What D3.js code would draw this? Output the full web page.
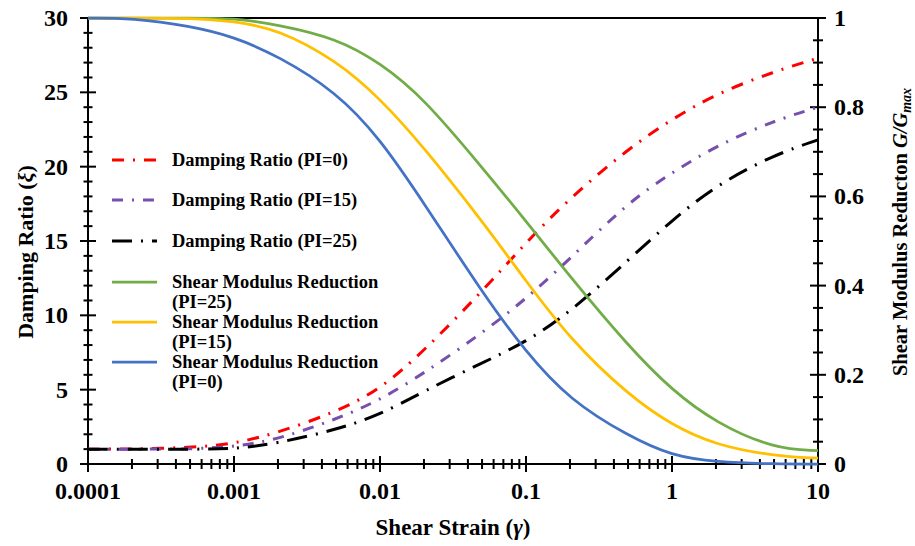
<!DOCTYPE html>
<html><head><meta charset="utf-8">
<script src="https://cdn.jsdelivr.net/npm/d3@7/dist/d3.min.js"></script>
<style>
html,body{margin:0;padding:0;background:#fff;}
svg text{font-family:"Liberation Serif","Times New Roman",serif;font-weight:bold;fill:#000;}
</style></head>
<body>
<svg id="chart" width="915" height="546"></svg>
<script>
// ---- data ----
const strain = [0.0001,0.0002,0.0005,0.001,0.002,0.005,0.01,0.02,0.05,0.1,0.2,0.5,1,2,5,10];
const dampPI0  = [1,1,1.1,1.35,2.1,3.5,5.0,7.6,11.6,14.9,17.9,21.2,23.2,24.9,26.4,27.3];
const dampPI15 = [1,1,1,1.15,1.65,3.0,4.3,6.1,8.8,11.1,13.8,17.6,19.6,21.4,23.1,24.0];
const dampPI25 = [1,1,1,1,1.4,2.3,3.3,4.9,6.8,8.2,10.2,13.7,16.4,18.75,20.8,21.8];
const gPI25 = [1,1,1,1,0.985,0.955,0.9,0.82,0.665,0.545,0.42,0.265,0.165,0.092,0.034,0.03];
const gPI15 = [1,1,1,0.993,0.975,0.905,0.82,0.71,0.545,0.41,0.28,0.155,0.087,0.042,0.018,0.013];
const gPI0  = [1,1,0.982,0.958,0.915,0.835,0.73,0.585,0.385,0.25,0.143,0.063,0.018,0.004,0,0];
const xTickLabels = ["0.0001","0.001","0.01","0.1","1","10"];
const leftTicks = [0,5,10,15,20,25,30];
const rightTicks = [0,0.2,0.4,0.6,0.8,1];
const rightTickLabels = ["0","0.2","0.4","0.6","0.8","1"];
const legendLabels = [
  ["Damping Ratio (PI=0)"],
  ["Damping Ratio (PI=15)"],
  ["Damping Ratio (PI=25)"],
  ["Shear Modulus Reduction","(PI=25)"],
  ["Shear Modulus Reduction","(PI=15)"],
  ["Shear Modulus Reduction","(PI=0)"]
];

// ---- layout ----
const L = 88, R = 818, T = 18, B = 464;
const svg = d3.select("#chart");
const x = d3.scaleLog().domain([0.0001,10]).range([L,R]);
const yL = d3.scaleLinear().domain([0,30]).range([B,T]);
const yR = d3.scaleLinear().domain([0,1]).range([B,T]);

const series = [
  {vals:dampPI0,  y:yL, color:"#ff0000", dash:"12,9,2,9", w:3},
  {vals:dampPI15, y:yL, color:"#7650ac", dash:"11,9,2,9", w:3},
  {vals:dampPI25, y:yL, color:"#000000", dash:"20,9,2,9", w:3},
  {vals:gPI25, y:yR, color:"#70ad47", dash:null, w:2.75},
  {vals:gPI15, y:yR, color:"#ffc000", dash:null, w:2.75},
  {vals:gPI0,  y:yR, color:"#4472c4", dash:null, w:2.75}
];

// frame
const frame = svg.append("g").attr("stroke","#000").attr("stroke-width",2);
frame.append("line").attr("x1",L).attr("x2",R).attr("y1",T).attr("y2",T);
frame.append("line").attr("x1",L-1).attr("x2",R+1).attr("y1",B).attr("y2",B);
frame.append("line").attr("x1",L).attr("x2",L).attr("y1",T).attr("y2",B);
frame.append("line").attr("x1",R).attr("x2",R).attr("y1",T).attr("y2",B);

// x ticks
const xt = [];
for (let e=-4;e<1;e++) for (let m=1;m<10;m++) xt.push(m*Math.pow(10,e));
xt.push(10);
const tk = svg.append("g").attr("stroke","#000").attr("stroke-width",2);
xt.forEach(v=>{
  const major = Math.abs(Math.log10(v)-Math.round(Math.log10(v)))<1e-9;
  const h = major?8:5;
  tk.append("line").attr("x1",x(v)).attr("x2",x(v)).attr("y1",B-h).attr("y2",B+h);
});
// left ticks
d3.range(0,31,1).forEach(v=>{
  const h = v%5===0?8:4.5;
  tk.append("line").attr("x1",L-h).attr("x2",L+h).attr("y1",yL(v)).attr("y2",yL(v));
});
// right ticks
d3.range(0,21,1).forEach(i=>{
  const v=i*0.05, h = i%4===0?8:5;
  tk.append("line").attr("x1",R-h).attr("x2",R+h).attr("y1",yR(v)).attr("y2",yR(v));
});

// tick labels
const fs = 24;
svg.append("g").selectAll("text").data(xTickLabels).join("text")
  .attr("x",d=>x(+d)).attr("y",499).attr("text-anchor","middle").attr("font-size",fs).text(d=>d);
svg.append("g").selectAll("text").data(leftTicks).join("text")
  .attr("x",68).attr("y",d=>yL(d)+8).attr("text-anchor","end").attr("font-size",fs).text(d=>d);
svg.append("g").selectAll("text").data(rightTicks).join("text")
  .attr("x",834).attr("y",d=>yR(d)+8).attr("text-anchor","start").attr("font-size",fs)
  .text((d,i)=>rightTickLabels[i]);

// axis titles
const xTitle = svg.append("text").attr("x",453).attr("y",535).attr("text-anchor","middle").attr("font-size",23);
xTitle.append("tspan").text("Shear Strain (");
xTitle.append("tspan").attr("font-style","italic").text("γ");
xTitle.append("tspan").text(")");

const yTitle = svg.append("text").attr("transform","translate(33,252) rotate(-90)")
  .attr("text-anchor","middle").attr("font-size",22);
yTitle.append("tspan").text("Damping Ratio (");
yTitle.append("tspan").attr("font-style","italic").text("ξ");
yTitle.append("tspan").text(")");

const y2Title = svg.append("text").attr("transform","translate(907,232) rotate(-90)")
  .attr("text-anchor","middle").attr("font-size",20.5);
y2Title.append("tspan").text("Shear Modulus Reducton ");
y2Title.append("tspan").attr("font-style","italic").text("G/G");
y2Title.append("tspan").attr("font-style","italic").attr("font-size",14).attr("dy",4).text("max");

// curves
const plot = svg.append("g");
series.forEach(s=>{
  const line = d3.line().x((d,i)=>x(strain[i])).y(d=>s.y(d)).curve(d3.curveBasis);
  plot.append("path").attr("d",line(s.vals)).attr("fill","none")
    .attr("stroke",s.color).attr("stroke-width",s.w)
    .attr("stroke-dasharray",s.dash).attr("stroke-linecap","butt");
});

// legend
const rowsY = [160,200,241,282,322,362];
const lg = svg.append("g");
series.forEach((s,i)=>{
  lg.append("line").attr("x1",112).attr("x2",157).attr("y1",rowsY[i]).attr("y2",rowsY[i])
    .attr("stroke",s.color).attr("stroke-width",s.w).attr("stroke-dasharray",s.dash);
  legendLabels[i].forEach((t,j)=>{
    lg.append("text").attr("x",172).attr("y",rowsY[i]+6+j*20).attr("font-size",18.5).text(t);
  });
});
</script>
</body></html>
